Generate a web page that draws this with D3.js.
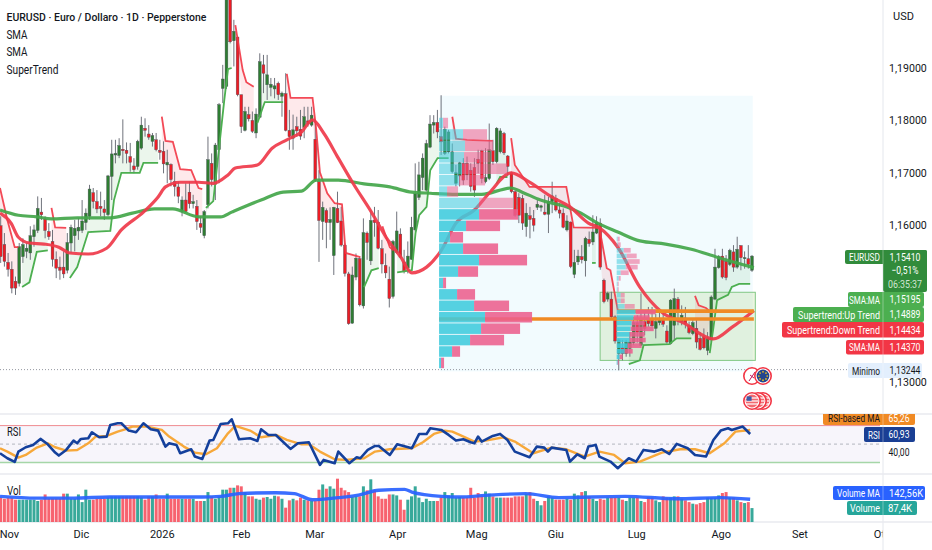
<!DOCTYPE html>
<html>
<head>
<meta charset="utf-8">
<script src="https://cdn.jsdelivr.net/npm/d3@7"></script>
<style>
  html, body { margin: 0; padding: 0; background: #fff; }
  svg { display: block; }
  text { font-family: Roboto, sans-serif; }
</style>
</head>
<body>
<svg id="chart" width="932" height="550"></svg>
<script>
// daily candles
var opens = [1.1599,1.1563,1.1529,1.1516,1.1493,1.1489,1.1540,1.1550,1.1547,1.1578,1.1590,1.1625,1.1612,1.1588,1.1569,1.1535,1.1520,1.1520,1.1514,1.1566,1.1580,1.1589,1.1590,1.1605,1.1617,1.1662,1.1645,1.1636,1.1631,1.1620,1.1693,1.1734,1.1733,1.1745,1.1743,1.1731,1.1713,1.1712,1.1747,1.1785,1.1774,1.1760,1.1763,1.1743,1.1741,1.1715,1.1716,1.1683,1.1673,1.1626,1.1648,1.1663,1.1641,1.1636,1.1603,1.1580,1.1639,1.1718,1.1678,1.1744,1.1861,1.1865,1.2045,1.1952,1.1959,1.1849,1.1781,1.1811,1.1800,1.1776,1.1806,1.1906,1.1868,1.1863,1.1860,1.1871,1.1846,1.1851,1.1781,1.1766,1.1788,1.1783,1.1787,1.1799,1.1791,1.1764,1.1683,1.1607,1.1628,1.1605,1.1542,1.1632,1.1608,1.1562,1.1507,1.1413,1.1501,1.1536,1.1446,1.1585,1.1532,1.1610,1.1606,1.1555,1.1523,1.1497,1.1464,1.1548,1.1583,1.1530,1.1518,1.1535,1.1591,1.1653,1.1691,1.1667,1.1749,1.1791,1.1796,1.1769,1.1737,1.1740,1.1702,1.1680,1.1694,1.1718,1.1718,1.1705,1.1710,1.1726,1.1742,1.1683,1.1689,1.1742,1.1721,1.1740,1.1775,1.1732,1.1700,1.1664,1.1653,1.1651,1.1597,1.1618,1.1613,1.1634,1.1634,1.1625,1.1621,1.1645,1.1651,1.1629,1.1623,1.1591,1.1606,1.1506,1.1530,1.1540,1.1532,1.1573,1.1568,1.1585,1.1604,1.1495,1.1459,1.1459,1.1425,1.1355,1.1366,1.1355,1.1365,1.1376,1.1414,1.1371,1.1416,1.1419,1.1422,1.1403,1.1414,1.1419,1.1398,1.1374,1.1409,1.1459,1.1416,1.1423,1.1409,1.1393,1.1403,1.1384,1.1387,1.1361,1.1381,1.1459,1.1519,1.1541,1.1531,1.1525,1.1549,1.1520,1.1561,1.1536,1.1536,1.1514];
var closes = [1.1540,1.1531,1.1516,1.1480,1.1480,1.1559,1.1563,1.1556,1.1580,1.1591,1.1632,1.1620,1.1590,1.1578,1.1535,1.1518,1.1514,1.1507,1.1567,1.1596,1.1594,1.1596,1.1608,1.1623,1.1669,1.1645,1.1631,1.1632,1.1624,1.1694,1.1736,1.1737,1.1752,1.1742,1.1737,1.1720,1.1706,1.1760,1.1791,1.1781,1.1768,1.1771,1.1744,1.1739,1.1717,1.1720,1.1687,1.1674,1.1655,1.1648,1.1626,1.1641,1.1645,1.1607,1.1596,1.1626,1.1725,1.1687,1.1753,1.1830,1.1879,1.2045,1.1950,1.1970,1.1849,1.1788,1.1817,1.1803,1.1779,1.1812,1.1912,1.1890,1.1887,1.1869,1.1866,1.1849,1.1852,1.1781,1.1769,1.1782,1.1780,1.1770,1.1807,1.1794,1.1810,1.1686,1.1609,1.1634,1.1605,1.1611,1.1634,1.1605,1.1562,1.1508,1.1412,1.1505,1.1537,1.1448,1.1586,1.1567,1.1609,1.1605,1.1556,1.1526,1.1509,1.1460,1.1569,1.1589,1.1539,1.1511,1.1541,1.1596,1.1660,1.1696,1.1728,1.1756,1.1793,1.1796,1.1778,1.1759,1.1783,1.1778,1.1740,1.1700,1.1719,1.1686,1.1696,1.1674,1.1667,1.1718,1.1689,1.1691,1.1744,1.1721,1.1785,1.1780,1.1738,1.1712,1.1664,1.1619,1.1619,1.1604,1.1623,1.1611,1.1600,1.1640,1.1637,1.1621,1.1645,1.1656,1.1629,1.1623,1.1596,1.1608,1.1521,1.1529,1.1541,1.1534,1.1575,1.1565,1.1587,1.1606,1.1520,1.1454,1.1470,1.1425,1.1379,1.1381,1.1355,1.1377,1.1377,1.1414,1.1396,1.1419,1.1403,1.1412,1.1408,1.1416,1.1419,1.1411,1.1377,1.1457,1.1460,1.1438,1.1428,1.1412,1.1395,1.1414,1.1377,1.1363,1.1366,1.1385,1.1463,1.1520,1.1540,1.1501,1.1500,1.1552,1.1520,1.1554,1.1538,1.1538,1.1525,1.1541];
var highs = [1.1617,1.1585,1.1547,1.1531,1.1502,1.1566,1.1575,1.1566,1.1598,1.1601,1.1655,1.1652,1.1617,1.1604,1.1591,1.1550,1.1540,1.1550,1.1585,1.1601,1.1610,1.1613,1.1648,1.1632,1.1677,1.1671,1.1667,1.1664,1.1648,1.1696,1.1763,1.1763,1.1766,1.1802,1.1758,1.1757,1.1728,1.1763,1.1807,1.1804,1.1791,1.1776,1.1776,1.1763,1.1760,1.1744,1.1718,1.1702,1.1683,1.1655,1.1680,1.1683,1.1658,1.1648,1.1617,1.1629,1.1769,1.1737,1.1757,1.1833,1.1906,1.2070,1.2070,1.1992,1.1960,1.1849,1.1826,1.1826,1.1817,1.1823,1.1928,1.1925,1.1925,1.1881,1.1881,1.1874,1.1855,1.1890,1.1820,1.1811,1.1807,1.1820,1.1826,1.1826,1.1826,1.1801,1.1705,1.1645,1.1632,1.1634,1.1635,1.1664,1.1635,1.1565,1.1511,1.1521,1.1546,1.1540,1.1613,1.1588,1.1629,1.1635,1.1629,1.1572,1.1546,1.1521,1.1572,1.1626,1.1594,1.1553,1.1569,1.1616,1.1718,1.1721,1.1737,1.1763,1.1810,1.1810,1.1820,1.1848,1.1788,1.1782,1.1756,1.1715,1.1721,1.1728,1.1731,1.1718,1.1728,1.1744,1.1744,1.1747,1.1794,1.1763,1.1787,1.1785,1.1778,1.1734,1.1702,1.1667,1.1661,1.1658,1.1642,1.1635,1.1629,1.1648,1.1639,1.1658,1.1654,1.1683,1.1658,1.1642,1.1632,1.1619,1.1607,1.1553,1.1553,1.1562,1.1578,1.1588,1.1619,1.1617,1.1613,1.1498,1.1473,1.1473,1.1428,1.1384,1.1381,1.1381,1.1396,1.1425,1.1428,1.1470,1.1438,1.1444,1.1444,1.1431,1.1438,1.1435,1.1409,1.1459,1.1479,1.1463,1.1447,1.1444,1.1416,1.1422,1.1419,1.1396,1.1403,1.1396,1.1466,1.1555,1.1543,1.1555,1.1543,1.1555,1.1562,1.1578,1.1562,1.1550,1.1562,1.1543];
var lows = [1.1528,1.1521,1.1502,1.1470,1.1467,1.1483,1.1528,1.1537,1.1534,1.1559,1.1585,1.1610,1.1575,1.1572,1.1521,1.1499,1.1496,1.1499,1.1508,1.1547,1.1550,1.1572,1.1585,1.1591,1.1610,1.1632,1.1623,1.1617,1.1610,1.1617,1.1648,1.1718,1.1728,1.1718,1.1718,1.1702,1.1699,1.1706,1.1744,1.1769,1.1763,1.1750,1.1741,1.1725,1.1699,1.1680,1.1674,1.1655,1.1642,1.1617,1.1623,1.1632,1.1632,1.1591,1.1585,1.1575,1.1632,1.1674,1.1648,1.1680,1.1833,1.1860,1.1947,1.1903,1.1846,1.1776,1.1779,1.1798,1.1776,1.1766,1.1804,1.1852,1.1839,1.1846,1.1842,1.1839,1.1807,1.1779,1.1744,1.1744,1.1769,1.1763,1.1766,1.1788,1.1788,1.1683,1.1530,1.1572,1.1556,1.1572,1.1505,1.1604,1.1559,1.1502,1.1410,1.1412,1.1495,1.1445,1.1441,1.1534,1.1524,1.1578,1.1554,1.1508,1.1499,1.1443,1.1460,1.1546,1.1537,1.1508,1.1508,1.1534,1.1588,1.1648,1.1667,1.1664,1.1747,1.1775,1.1766,1.1734,1.1734,1.1737,1.1699,1.1674,1.1674,1.1677,1.1686,1.1664,1.1654,1.1699,1.1680,1.1680,1.1686,1.1715,1.1718,1.1737,1.1734,1.1694,1.1661,1.1616,1.1604,1.1591,1.1578,1.1575,1.1588,1.1629,1.1626,1.1619,1.1585,1.1623,1.1626,1.1613,1.1594,1.1588,1.1518,1.1499,1.1524,1.1527,1.1502,1.1559,1.1562,1.1583,1.1515,1.1451,1.1454,1.1423,1.1374,1.1323,1.1342,1.1349,1.1349,1.1371,1.1376,1.1370,1.1390,1.1406,1.1406,1.1384,1.1409,1.1406,1.1374,1.1372,1.1381,1.1409,1.1409,1.1403,1.1392,1.1390,1.1365,1.1361,1.1363,1.1352,1.1377,1.1457,1.1517,1.1498,1.1495,1.1522,1.1511,1.1517,1.1514,1.1517,1.1517,1.1511];
var volumes = [153,146,153,153,140,140,140,140,140,140,132,140,173,146,146,146,146,178,178,146,146,173,125,203,140,140,146,146,146,153,161,161,161,161,161,161,161,161,153,140,161,161,173,146,146,178,146,146,146,146,146,146,146,132,132,132,188,161,146,161,203,203,215,215,230,224,188,161,161,146,140,153,157,146,165,161,146,90,136,146,136,153,140,136,132,132,203,236,209,224,209,272,215,199,188,157,161,161,224,199,268,199,161,146,146,173,173,167,140,77,140,161,224,153,125,146,132,132,132,153,188,167,182,153,157,153,153,215,153,182,167,192,178,161,153,153,153,153,153,161,161,161,178,188,146,132,105,132,161,153,140,140,140,146,140,178,167,188,194,161,146,132,146,140,153,153,153,153,140,132,153,153,153,132,125,157,153,136,125,161,153,153,161,161,146,136,125,115,111,119,125,153,153,153,167,182,188,153,153,136,125,119,125,87.4];

// moving averages: bar position and value
var smaFastBars = [0,3,5,8,12,16,19,24,29,33,39,43,45,49,54,58,62,64,70,74,78,82,85,88,92,96,101,105,109,112,116,120,124,129,133,139,144,150,155,160,163,168,174,180,186,194,199,205];
var smaFastVals = [1.1623,1.1604,1.1577,1.1566,1.1564,1.1558,1.1547,1.1545,1.1556,1.1591,1.1625,1.1654,1.1673,1.1682,1.1682,1.1680,1.1696,1.1709,1.1715,1.1747,1.1763,1.1778,1.1801,1.1776,1.1728,1.1680,1.1625,1.1577,1.1539,1.1509,1.1520,1.1552,1.1604,1.1629,1.1661,1.1700,1.1682,1.1654,1.1635,1.1604,1.1595,1.1558,1.1482,1.1434,1.1413,1.1383,1.1405,1.1437];
var smaSlowBars = [0,5,10,14,21,30,36,42,47,54,60,63,71,77,82,86,92,99,106,112,117,124,131,139,142,147,154,158,162,168,174,181,188,195,205];
var smaSlowVals = [1.1629,1.1619,1.1616,1.1612,1.1614,1.1614,1.1623,1.1631,1.1631,1.1616,1.1616,1.1625,1.1648,1.1663,1.1665,1.1686,1.1686,1.1679,1.1673,1.1663,1.1661,1.1659,1.1659,1.1671,1.1663,1.1648,1.1635,1.1623,1.1606,1.1587,1.1570,1.1564,1.1554,1.1539,1.1519];

// supertrend legs as [bar, price]
var trendDown = [
  [[0,1.1671],[2,1.1610],[4,1.1558],[5,1.1558]],
  [[14,1.1633],[15,1.1596],[18,1.1595]],
  [[44,1.1807],[45,1.1761],[47,1.1759],[49,1.1707],[52,1.1705],[54,1.1671],[55,1.1669]],
  [[64,1.1982],[66,1.1896],[67,1.1873],[69,1.1864]],
  [[78,1.1889],[79,1.1843],[85,1.1843],[86,1.1782],[87,1.1701],[89,1.1661],[91,1.1642],[93,1.1640],[94,1.1547],[98,1.1539]],
  [[104,1.1598],[106,1.1558],[107,1.1552]],
  [[123,1.1807],[124,1.1765],[127,1.1763],[134,1.1761]],
  [[139,1.1766],[140,1.1715],[144,1.1673],[154,1.1673],[156,1.1596],[163,1.1595],[165,1.1518],[166,1.1514],[168,1.1438]],
  [[189,1.1465],[190,1.1447],[192,1.1442],[193,1.1436]]
];
var trendUp = [
  [[6,1.1482],[8,1.1491],[10,1.1549],[13,1.1552]],
  [[19,1.1499],[21,1.1520],[24,1.1587],[30,1.1589],[31,1.1648],[33,1.1700],[38,1.1700],[39,1.1719],[43,1.1719]],
  [[56,1.1633],[58,1.1646],[61,1.1839],[62,1.1898],[63,1.1900]],
  [[70,1.1795],[72,1.1835],[77,1.1835]],
  [[99,1.1482],[101,1.1514],[103,1.1518]],
  [[108,1.1510],[112,1.1514],[113,1.1585],[114,1.1619],[116,1.1635],[117,1.1705],[119,1.1728],[122,1.1728]],
  [[135,1.1679],[136,1.1692],[138,1.1692]],
  [[161,1.1528],[162,1.1528]],
  [[171,1.1335],[174,1.1342],[175,1.1371],[182,1.1373],[184,1.1384],[188,1.1384]],
  [[193,1.1356],[194,1.1404],[195,1.1457],[198,1.1467],[199,1.1482],[201,1.1488],[204,1.1488]]
];

// volume profiles, buy and sell per row
var profileAUp = [4,24,26,25,23,20,8,40,40,27,11,24,40,19,4,18,35,46,42,31,13,2];
var profileADown = [5,24,28,26,45,26,11,34,39,34,13,35,48,20,3,18,35,47,39,34,8,3];
var profileBUp = [1,1,7,10,11,9,4,2,1,1,4,4,8,19,17,15,14,13,13,11,8,3,1];
var profileBDown = [2,3,7,10,12,12,8,2,1,1,4,4,10,20,16,13,23,15,16,14,8,3,1];

var rsiBars = [0,2,4,5,7,9,11,13,15,16,18,20,21,22,24,25,27,29,30,32,33,35,37,39,41,43,45,46,48,49,52,53,55,57,58,60,62,63,65,68,70,71,73,75,79,81,84,87,88,91,92,95,97,98,100,102,103,106,108,112,114,116,117,120,122,124,126,128,129,130,131,134,136,138,140,144,146,148,149,150,154,155,157,159,160,162,163,166,168,171,173,175,178,180,182,184,187,189,192,194,196,198,199,202,204];
var rsiVals = [40.1,34.7,30.7,41.9,46.6,49.1,55.6,49.8,40.8,37.6,43.7,53.8,50.9,55.6,56.3,62.8,57.4,58.1,70.7,72.5,72.5,64.6,62.8,72.5,66,64.6,47.3,50.9,49.1,40.1,44.4,36.5,34,53.8,54.5,71.8,72.5,76.8,55.2,56.3,53.4,66,59.9,59.9,44.8,50.9,52,27.5,32.9,29.3,41.9,29.3,35.8,34.7,43.7,48,48,38.3,49.8,45.5,61,61,67.1,65.3,59.9,53.8,55.2,52,50.9,58.1,52.7,58.8,61,54.5,41.9,35.8,47.3,46.2,41.9,46.2,43.7,31.1,39,34.7,47.3,49.1,36.5,31.1,23.9,34.7,31.1,43.7,41.9,44.4,39.4,50.2,45.5,38.3,36.5,54.5,64.6,67.1,65.3,68.9,60.93];
var rsiMaBars = [0,2,5,7,10,13,15,18,21,24,26,29,32,34,36,40,44,46,50,53,56,59,62,64,68,71,75,78,82,84,87,91,94,99,102,106,112,115,118,121,123,125,129,132,137,140,145,150,154,159,163,167,170,174,180,185,189,193,197,200,204];
var rsiMaVals = [45.5,41.9,35.4,38.3,46.2,50.9,46.6,43,43.7,50.9,58.1,58.8,63.5,66,68.9,68.9,65.3,58.1,47.3,40.8,39,45.5,61.7,69.6,64.6,57.4,59.9,54.5,49.8,49.8,41.9,33.6,32.9,34.7,41.9,44.4,45.5,52,61,64.6,63.5,59.9,52.7,53.8,57.4,52.7,40.1,46.2,44.4,36.5,41.9,38.3,29.3,31.1,40.8,44.4,44.4,40.1,50.9,63.5,65.26];
var volMaBars = [0,10,20,30,55,60,65,75,80,85,92,97,103,110,112,120,125,132,143,152,170,184,196,204];
var volMaVals = [161,150,150,157,157,161,178,184,178,140,153,167,199,205,188,161,157,167,178,153,161,146,153,142.56];

var timeBars = [2.4,22,44,65.5,85.5,108,129.5,151,173,196,217.4,239.5];
var timeLabels = ["Nov","Dic","2026","Feb","Mar","Apr","Mag","Giu","Lug","Ago","Set","Ott"];
var priceTicks = [1.19,1.18,1.17,1.16,1.13];

var svg = d3.select("#chart");
var defs = svg.append("defs");
defs.append("clipPath").attr("id", "mainClip").append("rect").attr("width", 883).attr("height", 413);
defs.append("clipPath").attr("id", "plotClip").append("rect").attr("width", 883).attr("height", 550);
defs.append("clipPath").attr("id", "rsiClip").append("rect").attr("y", 414).attr("width", 932).attr("height", 60);

var xBar = d3.scaleLinear().domain([0, 203]).range([0.7, 752]);
var timeX = d3.scaleLinear().domain([0, 204.5]).range([0, 752]);
var y = d3.scaleLinear().domain([1.19, 1.13]).range([68, 382.4]);
var yRsi = d3.scaleLinear().domain([70, 30]).range([425.6, 462.6]);
var yVol = d3.scaleLinear().domain([0, 142.56]).range([522, 499.3]);

function fmt(v) { return v.toFixed(5).replace(".", ","); }

// separators
[414, 474, 522].forEach(function(ly) {
  svg.append("line").attr("x1", 0).attr("x2", 932).attr("y1", ly).attr("y2", ly)
    .attr("stroke", "#e8eaef").attr("stroke-width", 1.6);
});

var main = svg.append("g").attr("clip-path", "url(#mainClip)");

// projection box
main.append("rect").attr("x", timeX(119.6)).attr("y", y(1.1847))
  .attr("width", timeX(204.7) - timeX(119.6)).attr("height", y(1.1321) - y(1.1847))
  .attr("fill", "#f2fbfe");

main.append("line").attr("x1", 0).attr("x2", 883).attr("y1", y(1.13244)).attr("y2", y(1.13244))
  .attr("stroke", "#9598a1").attr("stroke-width", 1).attr("stroke-dasharray", "1 2");

main.append("rect").attr("x", timeX(163.2)).attr("y", y(1.1472))
  .attr("width", timeX(205.4) - timeX(163.2)).attr("height", y(1.1342) - y(1.1472))
  .attr("fill", "#8bc34a").attr("fill-opacity", 0.17).attr("stroke", "#81c784").attr("stroke-width", 1);

// supertrend shading
function trendShade(legs, colour) {
  legs.forEach(function(leg) {
    var stBar = d3.scaleLinear().domain(leg.map(function(d) { return d[0]; })).range(leg.map(function(d) { return d[1]; }));
    var pts = d3.range(leg[0][0], leg[leg.length - 1][0] + 1);
    var area = d3.area()
      .x(function(k) { return timeX(k); })
      .y0(function(k) {
        var i = Math.max(0, Math.min(203, Math.round(xBar.invert(timeX(k)))));
        return y((opens[i] + closes[i]) / 2);
      })
      .y1(function(k) { return y(stBar(k)); });
    main.append("path").attr("d", area(pts)).attr("fill", colour).attr("fill-opacity", 0.11);
  });
}
trendShade(trendDown, "#f23645");
trendShade(trendUp, "#4caf50");

// candles
var candleG = main.append("g");
opens.forEach(function(o, i) {
  var c = closes[i], up = c >= o;
  var cx = xBar(i);
  candleG.append("line").attr("x1", cx).attr("x2", cx).attr("y1", y(highs[i])).attr("y2", y(lows[i]))
    .attr("stroke", "#70737c").attr("stroke-width", 1);
  candleG.append("rect").attr("x", cx - 1.4).attr("width", 2.8)
    .attr("y", y(Math.max(o, c))).attr("height", Math.max(1, Math.abs(y(o) - y(c))))
    .attr("fill", up ? "#2e7d32" : "#ee1c25").attr("stroke", "#4c4f57").attr("stroke-width", 0.4);
});

// supertrend lines
var stLine = d3.line().x(function(d) { return timeX(d[0]); }).y(function(d) { return y(d[1]); });
trendDown.forEach(function(leg) {
  main.append("path").attr("d", stLine(leg)).attr("fill", "none").attr("stroke", "#f23645").attr("stroke-width", 1.8).attr("stroke-opacity", 0.9);
});
trendUp.forEach(function(leg) {
  main.append("path").attr("d", stLine(leg)).attr("fill", "none").attr("stroke", "#4caf50").attr("stroke-width", 1.8);
});

// moving averages
function maLine(bars, vals, colour) {
  var line = d3.line().curve(d3.curveMonotoneX)
    .x(function(d) { return timeX(d); })
    .y(function(d, i) { return y(vals[i]); });
  main.append("path").attr("d", line(bars)).attr("fill", "none").attr("stroke", colour).attr("stroke-width", 3.2).attr("stroke-opacity", 0.92);
}
maLine(smaSlowBars, smaSlowVals, "#43a64a");
maLine(smaFastBars, smaFastVals, "#ef3a4a");

// orange POC lines
main.append("line").attr("x1", timeX(119.4)).attr("x2", timeX(205)).attr("y1", y(1.1421)).attr("y2", y(1.1421))
  .attr("stroke", "#f08a24").attr("stroke-width", 3.6);
main.append("line").attr("x1", timeX(168)).attr("x2", timeX(205)).attr("y1", y(1.1436)).attr("y2", y(1.1436))
  .attr("stroke", "#f08a24").attr("stroke-width", 3.6);

// volume profiles
function profile(ups, downs, basePos, top, step, lightRows) {
  var base = timeX(basePos);
  var w = d3.scaleLinear().domain([0, 100]).range([0, 100]);
  var rowH = y(top - step) - y(top) - 0.9;
  ups.forEach(function(u, i) {
    var ry = y(top - step * i);
    var light = i < lightRows;
    main.append("rect").attr("x", base).attr("y", ry).attr("width", w(u)).attr("height", rowH)
      .attr("fill", "#3fcbdd").attr("fill-opacity", light ? 0.55 : 0.88);
    main.append("rect").attr("x", base + w(u)).attr("y", ry).attr("width", w(downs[i])).attr("height", rowH)
      .attr("fill", "#ec5f8d").attr("fill-opacity", light ? 0.55 : 0.88);
  });
}
profile(profileAUp, profileADown, 119.4, 1.1805, 0.00218, 8);
profile(profileBUp, profileBDown, 167.7, 1.1578, 0.00107, 13);

// event icons
function icon(cx, cy, kind) {
  var g = svg.append("g").attr("transform", "translate(" + cx + "," + cy + ")");
  g.append("circle").attr("r", 8.2).attr("fill", "#fff").attr("stroke", "#f23645").attr("stroke-width", 1.6);
  if (kind == "eu") {
    g.append("circle").attr("r", 6.4).attr("fill", "#24468f");
    d3.range(8).forEach(function(k) {
      g.append("circle").attr("r", 0.85).attr("fill", "#f5c518")
        .attr("cx", 4.2 * Math.cos(k * Math.PI / 4)).attr("cy", 4.2 * Math.sin(k * Math.PI / 4));
    });
  } else if (kind == "us") {
    g.append("circle").attr("r", 6.4).attr("fill", "#f26a70");
    [-3, 0, 3].forEach(function(d) {
      g.append("rect").attr("x", -6).attr("width", 12).attr("y", d - 0.6).attr("height", 1.2).attr("fill", "#fff");
    });
    g.append("rect").attr("x", -5.4).attr("y", -4.6).attr("width", 5).attr("height", 4.4).attr("fill", "#3b5ba9");
  } else {
    g.append("path").attr("d", "M-3 5L3 -4M-2 -1L2 2").attr("stroke", "#c2185b").attr("fill", "none");
  }
}
icon(752, 376, "ghost");
icon(763, 376, "eu");
icon(763, 401, "us");
icon(758, 401, "us");
icon(752, 401, "us");

// RSI pane
var rsiG = svg.append("g").attr("clip-path", "url(#plotClip)");
rsiG.append("rect").attr("x", 0).attr("width", 880).attr("y", yRsi(70)).attr("height", yRsi(30) - yRsi(70)).attr("fill", "#7e57c2").attr("fill-opacity", 0.06);
rsiG.append("line").attr("x1", 0).attr("x2", 880).attr("y1", yRsi(70)).attr("y2", yRsi(70)).attr("stroke", "#ef8a90").attr("stroke-width", 1);
rsiG.append("line").attr("x1", 0).attr("x2", 880).attr("y1", yRsi(50)).attr("y2", yRsi(50)).attr("stroke", "#b2b5be").attr("stroke-width", 1).attr("stroke-dasharray", "3 3");
rsiG.append("line").attr("x1", 0).attr("x2", 880).attr("y1", yRsi(30)).attr("y2", yRsi(30)).attr("stroke", "#a5d6a7").attr("stroke-width", 1.5);

function rsiLine(bars, vals, colour, w) {
  var line = d3.line().x(function(d) { return timeX(d); }).y(function(d, i) { return yRsi(vals[i]); });
  rsiG.append("path").attr("d", line(bars)).attr("fill", "none").attr("stroke", colour).attr("stroke-width", w).attr("stroke-linejoin", "round");
}
rsiLine(rsiMaBars, rsiMaVals, "#f7a83a", 2.4);
rsiLine(rsiBars, rsiVals, "#14409c", 2.6);

// volume pane
var volG = svg.append("g").attr("clip-path", "url(#plotClip)");
volumes.forEach(function(v, i) {
  volG.append("rect").attr("x", xBar(i) - 1.5).attr("width", 3)
    .attr("y", yVol(v)).attr("height", yVol(0) - yVol(v))
    .attr("fill", closes[i] >= opens[i] ? "#22a08f" : "#f6525f").attr("fill-opacity", 0.9);
});
var volLine = d3.line().curve(d3.curveMonotoneX).x(function(d) { return timeX(d); }).y(function(d, i) { return yVol(volMaVals[i]); });
volG.append("path").attr("d", volLine(volMaBars)).attr("fill", "none").attr("stroke", "#2962ff").attr("stroke-width", 3.4).attr("stroke-opacity", 0.92);

// axes
var priceAxis = d3.axisRight(y).tickValues(priceTicks).tickSize(0).tickPadding(6).tickFormat(fmt);
var pa = svg.append("g").attr("transform", "translate(883,0)").call(priceAxis);
pa.select(".domain").remove();
pa.selectAll("text").attr("font-size", 10.6).attr("fill", "#131722").style("font-family", "Roboto, sans-serif");

var timeAxis = d3.axisBottom(timeX).tickValues(timeBars).tickSize(0).tickPadding(0)
  .tickFormat(function(d, i) { return timeLabels[i]; });
var ta = svg.append("g").attr("clip-path", "url(#plotClip)").append("g").attr("transform", "translate(0,530)").call(timeAxis);
ta.select(".domain").remove();
ta.selectAll("text").attr("font-size", 11).attr("fill", "#131722").style("font-family", "Roboto, sans-serif");

svg.append("line").attr("x1", 883).attr("x2", 883).attr("y1", 0).attr("y2", 550).attr("stroke", "#e0e3eb").attr("stroke-width", 1);

// titles: text squeezed to the width it has in the picture
function label(txt, tx, ty, size, weight, colour, anchor, len, parent) {
  var t = (parent || svg).append("text").attr("x", 0).attr("y", ty).attr("dy", "0.35em")
    .attr("font-size", size).attr("font-weight", weight || 400).attr("fill", colour || "#131722")
    .attr("text-anchor", anchor || "start").text(txt);
  var sx = len ? len / t.node().getComputedTextLength() : 1;
  t.attr("transform", "translate(" + tx + ",0) scale(" + sx + ",1)");
  return t;
}
label("EURUSD · Euro / Dollaro · 1D · Pepperstone", 6.5, 17, 11.6, 500, "#131722", "start", 200);
label("SMA", 6.5, 34.5, 12, 400, "#131722", "start", 21);
label("SMA", 6.5, 52, 12, 400, "#131722", "start", 21);
label("SuperTrend", 6.5, 70, 12, 400, "#131722", "start", 52);
label("RSI", 7, 432, 12, 400, "#131722", "start", 14);
label("Vol", 7, 491, 12, 400, "#131722", "start", 14);
label("USD", 893, 16, 11);

// price tags
function tag(name, value, top, h, left, right, fill, len, textFill) {
  svg.append("rect").attr("x", left).attr("y", top).attr("width", right - left).attr("height", h).attr("rx", 2).attr("fill", fill);
  label(name, 880, top + h / 2, 11.6, 400, textFill || "#fff", "end", len);
  label(value, 905, top + h / 2, 11.2, 400, textFill || "#fff", "middle", 31);
}
svg.append("rect").attr("x", 845).attr("y", 250).attr("width", 82).attr("height", 14).attr("rx", 2).attr("fill", "#318b3b");
svg.append("rect").attr("x", 883).attr("y", 250).attr("width", 44).attr("height", 42).attr("rx", 2).attr("fill", "#318b3b");
label("EURUSD", 880, 257, 11.6, 400, "#fff", "end", 31);
label("1,15410", 905, 257, 11.2, 400, "#fff", "middle", 31);
label("−0,51%", 905, 270, 11.2, 400, "#fff", "middle", 27);
label("06:35:37", 905, 284, 11.2, 400, "#cfe5d1", "middle", 34);

tag("SMA:MA", "1,15195", 292, 15, 848, 924, "#4caf50", 31);
tag("Supertrend:Up Trend", "1,14889", 307, 15, 793, 924, "#4caf50", 82);
tag("Supertrend:Down Trend", "1,14434", 322, 15.5, 782, 924, "#f23645", 93);
tag("SMA:MA", "1,14370", 340, 14.5, 846, 924, "#f23645", 31);
tag("Minimo", "1,13244", 363, 15, 848, 922, "#e3effd", 28, "#131722");

var rsiTags = svg.append("g").attr("clip-path", "url(#rsiClip)");
rsiTags.append("rect").attr("x", 823).attr("y", 411).attr("width", 92).attr("height", 14).attr("rx", 2).attr("fill", "#f08a24");
label("RSI-based MA", 880, 418, 11.6, 400, "#131722", "end", 52, rsiTags);
label("65,26", 899, 418, 11.2, 400, "#fff", "middle", 21, rsiTags);

svg.append("rect").attr("x", 864).attr("y", 427).attr("width", 51).attr("height", 15).attr("rx", 2).attr("fill", "#1a3f94");
label("RSI", 880, 434.5, 11.6, 400, "#fff", "end", 12);
label("60,93", 899, 434.5, 11.2, 400, "#fff", "middle", 21);
label("40,00", 899, 452.5, 11.2, 400, "#131722", "middle", 21);

svg.append("rect").attr("x", 833).attr("y", 486).attr("width", 92).attr("height", 14).attr("rx", 2).attr("fill", "#2962ff");
label("Volume MA", 880, 493, 11.6, 400, "#fff", "end", 43);
label("142,56K", 906, 493, 11.2, 400, "#fff", "middle", 34);
svg.append("rect").attr("x", 847).attr("y", 501).attr("width", 70).attr("height", 14).attr("rx", 2).attr("fill", "#26a69a");
label("Volume", 880, 508, 11.6, 400, "#fff", "end", 30);
label("87,4K", 900, 508, 11.2, 400, "#fff", "middle", 24);

svg.append("line").attr("x1", 883).attr("x2", 883).attr("y1", 0).attr("y2", 550).attr("stroke", "#ffffff").attr("stroke-opacity", 0.35);
</script>
</body>
</html>
